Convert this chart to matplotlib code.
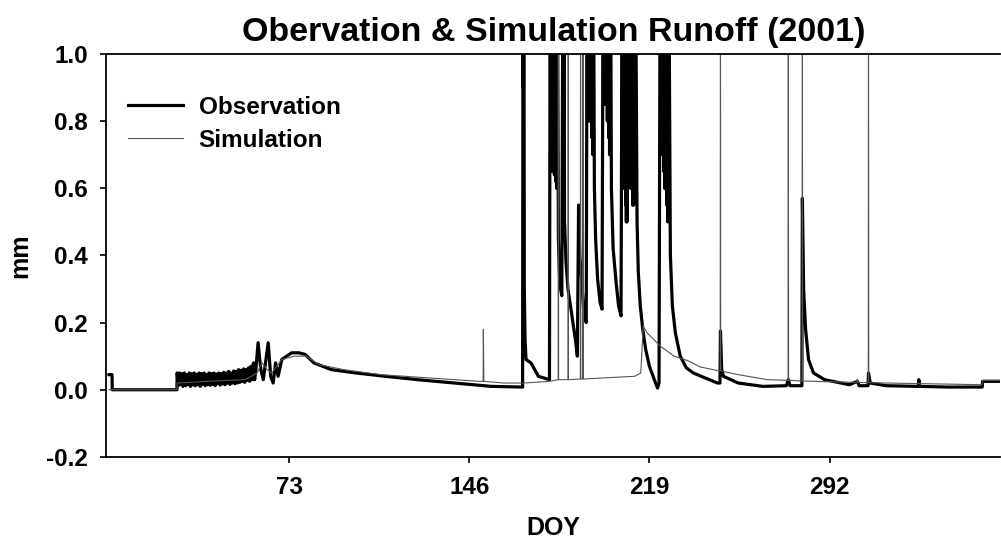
import matplotlib
matplotlib.use("Agg")
import matplotlib.pyplot as plt

plt.rcParams['font.family'] = ['Liberation Sans', 'DejaVu Sans']
plt.rcParams['font.weight'] = 'bold'

###############################################################################
# Values (DOY, mm). Peaks above 1.0 are clipped by the axes.
obs_doy = [0, 1.2, 1.3, 27.5, 27.6,
           28, 28.5, 29, 29.5, 30, 30.5, 31, 31.5, 32, 32.5, 33, 33.5, 34, 34.5,
           35, 35.5, 36, 36.5, 37, 37.5, 38, 38.5, 39, 39.5, 40, 40.5, 41, 41.5,
           42, 42.5, 43, 43.5, 44, 44.5, 45, 45.5, 46, 46.5, 47, 47.5, 48, 48.5,
           49, 49.5, 50, 50.5, 51, 51.5, 52, 52.5, 53, 53.5, 54, 54.5, 55, 55.5,
           56, 56.5, 57, 57.5, 58, 58.5, 59, 59.5, 60.4, 61.5, 62.5, 64.5, 65.5,
           66.5, 67.5, 68.5, 70, 72, 74, 77, 79.5, 83, 90, 100, 112, 125, 140,
           155, 167.6,
           167.8, 167.95, 168.1, 168.3, 168.6, 169, 171, 174, 178.5,
           178.8, 179.0, 179.15, 179.3, 179.45, 179.6, 179.75, 179.9, 180.05, 180.2,
           180.35, 180.5, 180.65, 180.8, 180.95, 181.1, 181.25, 181.4, 181.55, 181.7,
           182.1, 182.5, 183, 183.5,
           184.0, 184.2, 184.35, 184.6, 185.2, 186, 187, 188, 189, 189.8, 190.3,
           190.8, 191.5, 192.5, 193.4,
           193.8, 193.95, 194.1, 194.25, 194.4, 194.55, 194.7, 194.85, 195.0, 195.15,
           195.3, 195.45, 195.6, 195.75, 195.9, 196.05, 196.2, 196.3,
           196.7, 197.2, 198, 199, 199.8,
           200.3, 200.45, 200.6, 200.75, 200.9, 201.05, 201.2, 201.35, 201.5, 201.65,
           201.8, 201.95, 202.1, 202.25, 202.4, 202.55, 202.7, 202.85, 203.0, 203.2,
           203.6, 204.3, 205.5, 206.5, 207.5,
           208, 208.15, 208.3, 208.45, 208.6, 208.75, 208.9, 209.05, 209.2, 209.35,
           209.5, 209.65, 209.8, 209.95, 210.1, 210.25, 210.4, 210.6, 210.8, 211.0,
           211.2, 211.4, 211.6, 211.8, 212.0, 212.2, 212.4, 212.6, 212.8, 213.0, 213.3,
           214, 214.5, 215.3, 216.3, 217.5, 219, 220.5, 221.5, 222.3, 222.9,
           223.4, 223.6, 223.8, 224.0, 224.2, 224.4, 224.6, 224.8, 225.0, 225.2,
           225.4, 225.6, 225.8, 226.0, 226.2, 226.4, 226.6, 226.8,
           227.5, 228.3, 229.5, 231.5, 234, 236.8, 240, 246.6,
           247.6, 247.8, 248.3, 249, 255, 265, 274.5, 275.3, 276, 280.8,
           281, 281.5, 282.3, 283.5, 285.5, 290, 300, 303.3, 304, 307.6, 307.8,
           308.5, 315, 328, 328.2, 328.5, 340, 353.9, 354, 361.3]
obs_val = [0.045, 0.045, 0.0, 0.0, 0.05,
           0.012, 0.05, 0.015, 0.048, 0.01, 0.05, 0.012, 0.045, 0.015, 0.05, 0.01, 0.048, 0.014, 0.05,
           0.012, 0.046, 0.015, 0.05, 0.01, 0.048, 0.016, 0.05, 0.012, 0.045, 0.015, 0.05, 0.013, 0.048,
           0.016, 0.05, 0.012, 0.047, 0.018, 0.05, 0.014, 0.048, 0.017, 0.052, 0.015, 0.05, 0.02, 0.055,
           0.016, 0.05, 0.02, 0.056, 0.018, 0.055, 0.02, 0.06, 0.022, 0.058, 0.025, 0.062, 0.022, 0.06,
           0.028, 0.065, 0.025, 0.07, 0.03, 0.08, 0.03, 0.06, 0.14, 0.06, 0.03, 0.14, 0.04,
           0.02, 0.08, 0.04, 0.09, 0.1, 0.11, 0.11, 0.105, 0.08, 0.06, 0.05, 0.04, 0.03, 0.02,
           0.01, 0.008,
           1.4, 0.9, 1.4, 0.3, 0.15, 0.09, 0.08, 0.04, 0.03,
           1.4, 0.7, 1.4, 0.75, 1.4, 0.65, 1.4, 0.7, 1.4, 0.66,
           1.4, 0.64, 1.4, 0.68, 1.4, 0.62, 1.4, 0.6, 1.4, 1.4,
           0.45, 0.35, 0.3, 0.28,
           1.4, 0.8, 1.4, 0.5, 0.38, 0.3, 0.25, 0.2, 0.15, 0.1, 0.55,
           0.4, 0.33, 0.22, 0.2,
           1.4, 0.8, 1.4, 0.85, 1.4, 0.9, 1.4, 0.8, 1.4, 0.85,
           1.4, 0.8, 1.4, 0.75, 1.4, 0.7, 1.4, 1.4,
           0.6, 0.45, 0.33, 0.26, 0.24,
           1.4, 0.85, 1.4, 0.9, 1.4, 0.85, 1.4, 0.9, 1.4, 0.85,
           1.4, 0.8, 1.4, 0.8, 1.4, 0.75, 1.4, 0.7, 1.4, 1.4,
           0.6, 0.42, 0.32, 0.25, 0.22,
           1.4, 0.7, 1.4, 0.65, 1.4, 0.6, 1.4, 0.6, 1.4, 0.55,
           1.4, 0.5, 1.4, 0.5, 1.4, 0.6, 1.4, 0.7, 1.4, 0.65,
           1.4, 0.6, 1.4, 0.6, 1.4, 0.55, 1.4, 0.55, 1.4, 1.4, 1.4,
           0.5, 0.35, 0.25, 0.18, 0.12, 0.07, 0.04, 0.02, 0.005, 0.02,
           1.4, 0.75, 1.4, 0.7, 1.4, 0.7, 1.4, 0.65, 1.4, 0.6,
           1.4, 0.6, 1.4, 0.55, 1.4, 0.5, 1.4, 1.4,
           0.4, 0.25, 0.17, 0.1, 0.065, 0.05, 0.04, 0.02,
           0.02, 0.175, 0.06, 0.04, 0.02, 0.01, 0.012, 0.03, 0.012, 0.012,
           0.57, 0.3, 0.18, 0.09, 0.05, 0.03, 0.015, 0.025, 0.012, 0.012, 0.05,
           0.02, 0.012, 0.01, 0.03, 0.01, 0.008, 0.008, 0.025, 0.025]

sim_doy = [0, 27.5, 27.6, 40, 55, 60, 62, 64, 66, 70, 75, 80, 85, 95, 110, 130,
           150, 151.6, 151.7, 151.9, 160, 168, 178.5,
           182, 182.1, 182.2, 186, 186.1, 186.2, 191, 191.1, 191.2, 192, 192.1, 192.2,
           200, 213, 215.5, 216.5, 218, 223.4, 229, 234.4, 239.6, 246.6,
           247.7, 247.8, 247.9, 255, 266.8, 275.2, 275.3, 275.4, 280.9, 281, 281.1,
           290, 303.2, 303.3, 303.4, 307.7, 307.8, 307.9, 330, 353.9, 354, 361.3]
sim_val = [0.0, 0.0, 0.02, 0.025, 0.03, 0.05, 0.08, 0.06, 0.05, 0.09, 0.1, 0.1, 0.075, 0.06, 0.045, 0.035,
           0.025, 0.025, 0.18, 0.025, 0.02, 0.02, 0.025,
           0.03, 1.4, 0.03, 0.03, 1.4, 0.03, 0.032, 1.4, 0.032, 0.032, 1.4, 0.032,
           0.035, 0.04, 0.05, 0.19, 0.17, 0.13, 0.1, 0.087, 0.068, 0.057,
           0.057, 1.4, 0.056, 0.045, 0.03, 0.028, 1.4, 0.028, 0.026, 1.4, 0.026,
           0.024, 0.022, 0.03, 0.022, 0.021, 1.4, 0.021, 0.018, 0.015, 0.028, 0.028]

xticks = [73, 146, 219, 292]
yticks = [-0.2, 0.0, 0.2, 0.4, 0.6, 0.8, 1.0]

###############################################################################
fig = plt.figure(figsize=(10.01, 5.42), dpi=100)
ax = fig.add_axes([0.106, 0.157, 0.8935, 0.7435])

ax.plot(obs_doy, obs_val, color='black', lw=2.3, label='Observation')
ax.plot(sim_doy, sim_val, color='#555555', lw=0.8, label='Simulation')

ax.set_xlim(-1.2, 361.3)
ax.set_ylim(-0.2, 1.0)
ax.set_xticks(xticks)
ax.set_yticks(yticks)
ax.set_yticklabels(['%.1f' % v for v in yticks])
ax.tick_params(axis='x', direction='out', length=4, width=1.2, pad=10, labelsize=17.5)
ax.tick_params(axis='y', direction='out', length=4, width=1.2, pad=9, labelsize=17.5)
for lab in ax.get_xticklabels() + ax.get_yticklabels():
    lab.set_fontweight('bold')

ax.spines['right'].set_visible(False)
for s in ['left', 'bottom', 'top']:
    ax.spines[s].set_linewidth(1.3)

ax.set_title('Obervation & Simulation Runoff (2001)', fontsize=24.5, fontweight='bold', pad=9)
ax.set_xlabel('DOY', fontsize=18, fontweight='bold', labelpad=12)
ax.set_ylabel('mm', fontsize=18, fontweight='bold', labelpad=10)

leg = ax.legend(loc='upper left', bbox_to_anchor=(0.0134, 0.92), frameon=False,
                borderaxespad=0, handlelength=2.25, handletextpad=0.66, labelspacing=0.4,
                prop={'size': 17.5, 'weight': 'bold'})

fig.savefig('out.png', dpi=100)
